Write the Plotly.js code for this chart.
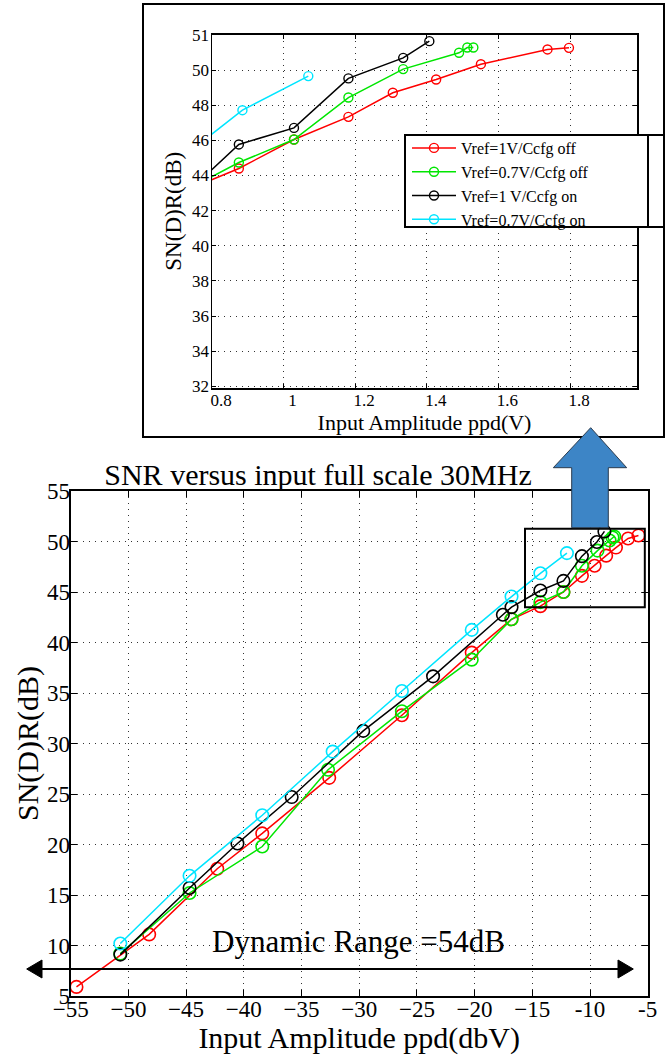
<!DOCTYPE html>
<html>
<head>
<meta charset="utf-8">
<script src="https://cdn.plot.ly/plotly-3.0.1.min.js"></script>
<style>html,body{margin:0;padding:0;background:#fff}#chart{width:665px;height:1055px}</style>
</head>
<body>
<div id="chart"></div>
<script>
// ---------- data: main plot (input amplitude in dBV vs SN(D)R in dB) ----------
const seriesNames = ['Vref=1V/Ccfg off', 'Vref=0.7V/Ccfg off', 'Vref=1 V/Ccfg on', 'Vref=0.7V/Ccfg on'];
const seriesColors = ['#ff0000', '#00e600', '#000000', '#00e5ff'];

const mainRedX = [-54.5, -48.2, -42.3, -38.4, -32.6, -26.3, -20.25, -16.8, -14.3, -12.3, -10.7, -9.6, -8.6, -7.75, -6.7, -5.8];
const mainRedY = [5.9, 11.1, 17.6, 21.1, 26.6, 32.8, 39.0, 42.3, 43.6, 45.0, 46.6, 47.6, 48.6, 49.4, 50.3, 50.6];
const mainGreenX = [-50.7, -44.7, -38.4, -32.7, -26.3, -20.25, -16.8, -14.3, -12.3, -10.7, -9.35, -8.3, -8.05, -7.9];
const mainGreenY = [9.2, 15.2, 19.8, 27.4, 33.2, 38.3, 42.3, 44.0, 45.0, 47.6, 49.1, 50.1, 50.4, 50.5];
const mainBlackX = [-50.7, -44.7, -40.55, -35.85, -29.65, -23.6, -17.55, -16.8, -14.3, -12.3, -10.7, -9.4, -8.75];
const mainBlackY = [9.1, 15.7, 20.1, 24.7, 31.25, 36.65, 42.75, 43.5, 45.15, 46.1, 48.55, 49.95, 51.0];
const mainCyanX = [-50.7, -44.7, -38.4, -32.3, -26.3, -20.25, -16.8, -14.3, -12.0];
const mainCyanY = [10.2, 16.9, 22.9, 29.2, 35.2, 41.25, 44.55, 46.85, 48.85];

// ---------- data: inset (input amplitude in V) ----------
const insetRedX = [0.73, 0.875, 1.029, 1.181, 1.305, 1.426, 1.551, 1.737, 1.797];
const insetRedY = [43.17, 44.40, 46.05, 47.34, 48.71, 49.47, 50.34, 51.18, 51.27];
const insetGreenX = [0.73, 0.875, 1.029, 1.181, 1.334, 1.49, 1.513, 1.53];
const insetGreenY = [43.19, 44.74, 46.05, 48.44, 50.06, 50.99, 51.29, 51.29];
const insetBlackX = [0.73, 0.875, 1.029, 1.181, 1.334, 1.407];
const insetBlackY = [43.0, 45.77, 46.71, 49.53, 50.70, 51.65];
const insetCyanX = [0.73, 0.885, 1.069];
const insetCyanY = [45.25, 47.72, 49.66];

// ---------- tick labels ----------
const mainXTickVals = [-55, -50, -45, -40, -35, -30, -25, -20, -15, -10, -5];
const mainXTickText = ['\u221255', '\u221250', '\u221245', '\u221240', '\u221235', '\u221230', '\u221225', '\u221220', '\u221215', '-10', '-5'];
const mainYTickVals = [5, 10, 15, 20, 25, 30, 35, 40, 45, 50, 55];
const insetXTickVals = [0.8, 1.0, 1.2, 1.4, 1.6, 1.8];
const insetXTickText = ['0.8', '1', '1.2', '1.4', '1.6', '1.8'];
const insetYTickVals = [32, 34, 36, 38, 40, 42, 44, 46, 48, 50, 52];
const insetYTickText = ['32', '34', '36', '38', '40', '42', '44', '46', '48', '50', '51'];

const mainTitle = 'SNR versus input full scale 30MHz';
const mainXTitle = 'Input Amplitude ppd(dbV)';
const insetXTitle = 'Input Amplitude ppd(V)';
const yTitle = 'SN(D)R(dB)';
const dynamicRangeText = 'Dynamic Range =54dB';

// ---------- build ----------
const W = 665, H = 1055;
const fx = v => v / W;
const fy = v => 1 - v / H;
const FONT = 'Liberation Serif';

const mainSets = [[mainRedX, mainRedY], [mainGreenX, mainGreenY], [mainBlackX, mainBlackY], [mainCyanX, mainCyanY]];
const insetSets = [[insetRedX, insetRedY], [insetGreenX, insetGreenY], [insetBlackX, insetBlackY], [insetCyanX, insetCyanY]];

const traces = [];
mainSets.forEach((s, i) => traces.push({
  type: 'scatter', mode: 'lines+markers', x: s[0], y: s[1], xaxis: 'x', yaxis: 'y',
  name: seriesNames[i], showlegend: false, cliponaxis: false,
  line: {color: seriesColors[i], width: 1.5},
  marker: {symbol: 'circle-open', size: 12.5, color: seriesColors[i], line: {width: 1.6, color: seriesColors[i]}}
}));
insetSets.forEach((s, i) => traces.push({
  type: 'scatter', mode: 'lines+markers', x: s[0], y: s[1], xaxis: 'x2', yaxis: 'y2',
  name: seriesNames[i], showlegend: true,
  line: {color: seriesColors[i], width: 1.5},
  marker: {symbol: 'circle-open', size: 9, color: seriesColors[i], line: {width: 1.4, color: seriesColors[i]}}
}));

const axisCommon = {
  showline: true, linecolor: '#000', mirror: 'ticks', ticks: 'inside', tickcolor: '#000',
  showgrid: true, gridcolor: '#333', griddash: '1px,5px', gridwidth: 1, zeroline: false,
  automargin: false
};

const layout = {
  width: W, height: H,
  margin: {l: 0, r: 0, t: 0, b: 0},
  paper_bgcolor: '#fff', plot_bgcolor: '#fff',
  font: {family: FONT, color: '#000'},
  title: {text: mainTitle, font: {size: 30, family: FONT}, x: fx(318), xanchor: 'center', y: fy(474), yanchor: 'middle', xref: 'container', yref: 'container'},
  xaxis: Object.assign({}, axisCommon, {
    domain: [fx(70.7), fx(647.7)], range: [-55, -5], anchor: 'y',
    tickmode: 'array', tickvals: mainXTickVals, ticktext: mainXTickText, ticklen: 6, linewidth: 2,
    tickfont: {size: 23, family: FONT}, ticklabelstandoff: -9,
    title: {text: mainXTitle, font: {size: 30, family: FONT}, standoff: 5}
  }),
  yaxis: Object.assign({}, axisCommon, {
    domain: [fy(996), fy(491)], range: [5, 55], anchor: 'x',
    tickmode: 'array', tickvals: mainYTickVals, ticklen: 6, linewidth: 2,
    tickfont: {size: 23, family: FONT}, ticklabelstandoff: -6,
    title: {text: yTitle, font: {size: 30, family: FONT}, standoff: 0}
  }),
  xaxis2: Object.assign({}, axisCommon, {
    domain: [fx(212), fx(637)], range: [0.8, 1.987], anchor: 'y2',
    tickmode: 'array', tickvals: insetXTickVals, ticktext: insetXTickText, ticklen: 4, linewidth: 1.5,
    tickfont: {size: 17, family: FONT}, ticklabelstandoff: -4, ticklabelshift: 9,
    title: {text: insetXTitle, font: {size: 22, family: FONT}, standoff: 0}
  }),
  yaxis2: Object.assign({}, axisCommon, {
    domain: [fy(388), fy(34.5)], range: [31.9, 52.03], anchor: 'x2',
    tickmode: 'array', tickvals: insetYTickVals, ticktext: insetYTickText, ticklen: 4, linewidth: 1.5,
    tickfont: {size: 17, family: FONT}, ticklabelstandoff: -2,
    title: {text: yTitle, font: {size: 23, family: FONT}, standoff: 4}
  }),
  legend: {
    x: fx(407), y: fy(131), xanchor: 'left', yanchor: 'top',
    bgcolor: 'rgba(0,0,0,0)', borderwidth: 0, font: {size: 16, family: FONT},
    tracegroupgap: 0, itemwidth: 44
  },
  shapes: [
    // frame around the inset
    {type: 'rect', xref: 'paper', yref: 'paper', x0: fx(143), x1: fx(664), y0: fy(437), y1: fy(4), line: {color: '#000', width: 2}, layer: 'above'},
    // zoom box on the main plot
    {type: 'rect', xref: 'x', yref: 'y', x0: -15.63, x1: -5.25, y0: 43.5, y1: 51.26, line: {color: '#000', width: 2}, layer: 'above'},
    // legend box
    {type: 'rect', xref: 'paper', yref: 'paper', x0: fx(405), x1: fx(648), y0: fy(227), y1: fy(135), fillcolor: '#fff', line: {color: '#000', width: 2}, layer: 'above'},
    {type: 'line', xref: 'paper', yref: 'paper', x0: fx(648), x1: fx(664), y0: fy(135), y1: fy(135), line: {color: '#000', width: 2}, layer: 'above'},
    {type: 'line', xref: 'paper', yref: 'paper', x0: fx(648), x1: fx(664), y0: fy(227), y1: fy(227), line: {color: '#000', width: 2}, layer: 'above'},
    // blue arrow pointing from zoom box to inset
    {type: 'path', xref: 'paper', yref: 'paper', layer: 'above',
     path: 'M' + fx(590.7) + ',' + fy(427.7) + ' L' + fx(626.7) + ',' + fy(467.7) + ' L' + fx(608.3) + ',' + fy(467.7) +
           ' L' + fx(608.3) + ',' + fy(527.7) + ' L' + fx(571.7) + ',' + fy(527.7) + ' L' + fx(571.7) + ',' + fy(467.7) +
           ' L' + fx(553.3) + ',' + fy(467.7) + ' Z',
     fillcolor: '#3d85c6', line: {color: '#2b3b4e', width: 1}},
    // dynamic range double arrow
    {type: 'line', xref: 'paper', yref: 'paper', x0: fx(38), x1: fx(622), y0: fy(969), y1: fy(969), line: {color: '#000', width: 2}, layer: 'above'},
    {type: 'path', xref: 'paper', yref: 'paper', layer: 'above',
     path: 'M' + fx(26.7) + ',' + fy(969) + ' L' + fx(42) + ',' + fy(960) + ' L' + fx(42) + ',' + fy(978) + ' Z',
     fillcolor: '#000', line: {color: '#000', width: 1}},
    {type: 'path', xref: 'paper', yref: 'paper', layer: 'above',
     path: 'M' + fx(633.3) + ',' + fy(969) + ' L' + fx(618) + ',' + fy(960) + ' L' + fx(618) + ',' + fy(978) + ' Z',
     fillcolor: '#000', line: {color: '#000', width: 1}}
  ],
  annotations: [
    {text: dynamicRangeText, xref: 'paper', yref: 'paper', x: fx(358.7), y: fy(941.5), xanchor: 'center', yanchor: 'middle',
     showarrow: false, font: {size: 31, family: FONT, color: '#000'}}
  ]
};

Plotly.newPlot('chart', traces, layout, {displayModeBar: false, staticPlot: true});
</script>
</body>
</html>
